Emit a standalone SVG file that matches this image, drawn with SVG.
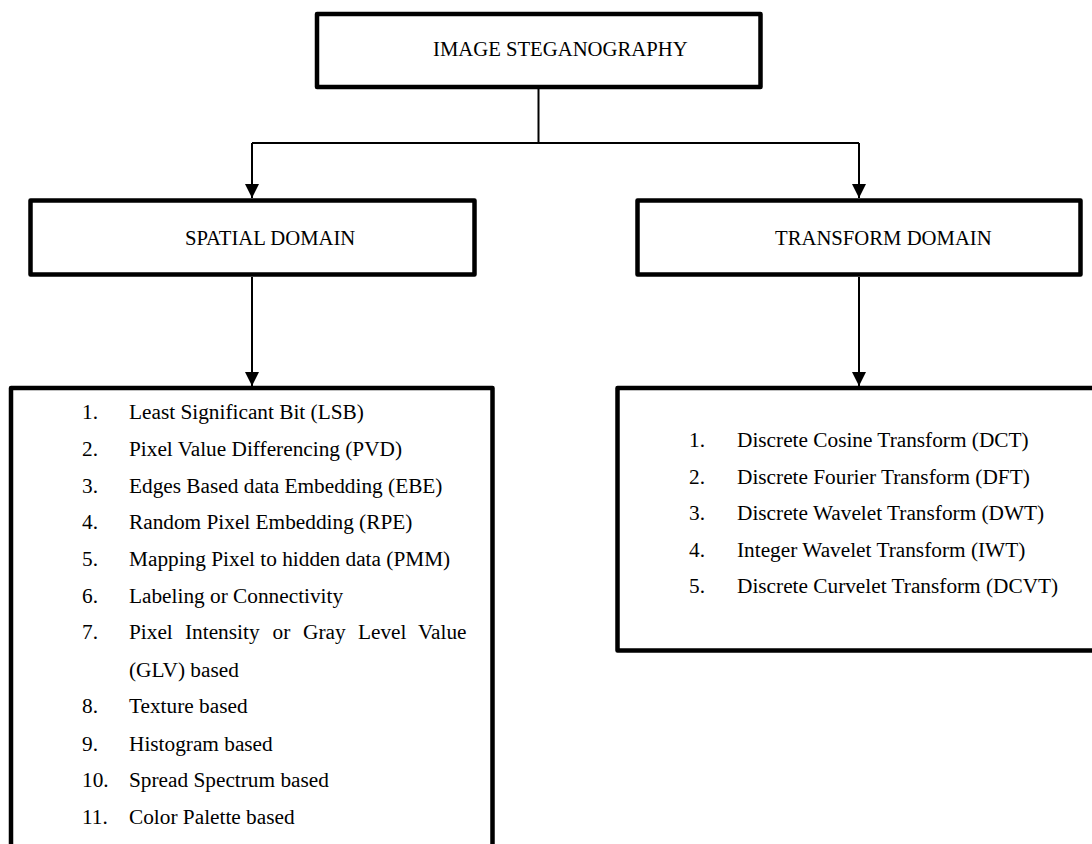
<svg xmlns="http://www.w3.org/2000/svg" width="1092" height="844" viewBox="0 0 1092 844">
<style>
.box{fill:#fff;stroke:#000;stroke-width:4.5;stroke-linejoin:round}
.con{fill:none;stroke:#000;stroke-width:2}
text{font-family:"Liberation Serif",serif;fill:#000}
.hdr{font-size:20.7px}
.li{font-size:21.3px}
</style>
<defs>
<marker id="ah" markerUnits="userSpaceOnUse" markerWidth="14" markerHeight="14" refX="14" refY="7" orient="auto">
<path d="M0,0 L14,7 L0,14 Z" fill="#000"/>
</marker>
</defs>
<rect width="1092" height="844" fill="#fff"/>
<g id="connectors">
<path class="con" d="M538.5,89 L538.5,143"/>
<path class="con" d="M252,143 L859,143"/>
<path class="con" d="M252,143 L252,198" marker-end="url(#ah)"/>
<path class="con" d="M859,143 L859,198" marker-end="url(#ah)"/>
<path class="con" d="M252,277 L252,386" marker-end="url(#ah)"/>
<path class="con" d="M859,277 L859,386" marker-end="url(#ah)"/>
</g>
<g id="image-steganography">
<rect class="box" x="317" y="14" width="443.5" height="73"/>
<text class="hdr" x="433" y="56">IMAGE STEGANOGRAPHY</text>
</g>
<g id="spatial-domain">
<rect class="box" x="30.5" y="200.5" width="444" height="74"/>
<text class="hdr" x="185" y="245">SPATIAL DOMAIN</text>
</g>
<g id="transform-domain">
<rect class="box" x="637.5" y="200.5" width="443" height="74"/>
<text class="hdr" x="775" y="245">TRANSFORM DOMAIN</text>
</g>
<g id="spatial-list">
<rect class="box" x="11" y="388" width="481.5" height="480"/>
<text class="li" x="82" y="419">1.</text><text class="li" x="129" y="419">Least Significant Bit (LSB)</text>
<text class="li" x="82" y="456">2.</text><text class="li" x="129" y="456">Pixel Value Differencing (PVD)</text>
<text class="li" x="82" y="493">3.</text><text class="li" x="129" y="493">Edges Based data Embedding (EBE)</text>
<text class="li" x="82" y="529">4.</text><text class="li" x="129" y="529">Random Pixel Embedding (RPE)</text>
<text class="li" x="82" y="566">5.</text><text class="li" x="129" y="566">Mapping Pixel to hidden data (PMM)</text>
<text class="li" x="82" y="603">6.</text><text class="li" x="129" y="603">Labeling or Connectivity</text>
<text class="li" x="82" y="639">7.</text><text class="li" y="639"><tspan x="129">Pixel</tspan><tspan x="185">Intensity</tspan><tspan x="272.5">or</tspan><tspan x="303">Gray</tspan><tspan x="358">Level</tspan><tspan x="418">Value</tspan></text>
<text class="li" x="129" y="677">(GLV) based</text>
<text class="li" x="82" y="713">8.</text><text class="li" x="129" y="713">Texture based</text>
<text class="li" x="82" y="751">9.</text><text class="li" x="129" y="751">Histogram based</text>
<text class="li" x="82" y="787">10.</text><text class="li" x="129" y="787">Spread Spectrum based</text>
<text class="li" x="82" y="824">11.</text><text class="li" x="129" y="824">Color Palette based</text>
</g>
<g id="transform-list">
<rect class="box" x="617.5" y="388" width="490" height="262.5"/>
<text class="li" x="689" y="447">1.</text><text class="li" x="737" y="447">Discrete Cosine Transform (DCT)</text>
<text class="li" x="689" y="484">2.</text><text class="li" x="737" y="484">Discrete Fourier Transform (DFT)</text>
<text class="li" x="689" y="520">3.</text><text class="li" x="737" y="520">Discrete Wavelet Transform (DWT)</text>
<text class="li" x="689" y="557">4.</text><text class="li" x="737" y="557">Integer Wavelet Transform (IWT)</text>
<text class="li" x="689" y="593">5.</text><text class="li" x="737" y="593">Discrete Curvelet Transform (DCVT)</text>
</g>
</svg>
